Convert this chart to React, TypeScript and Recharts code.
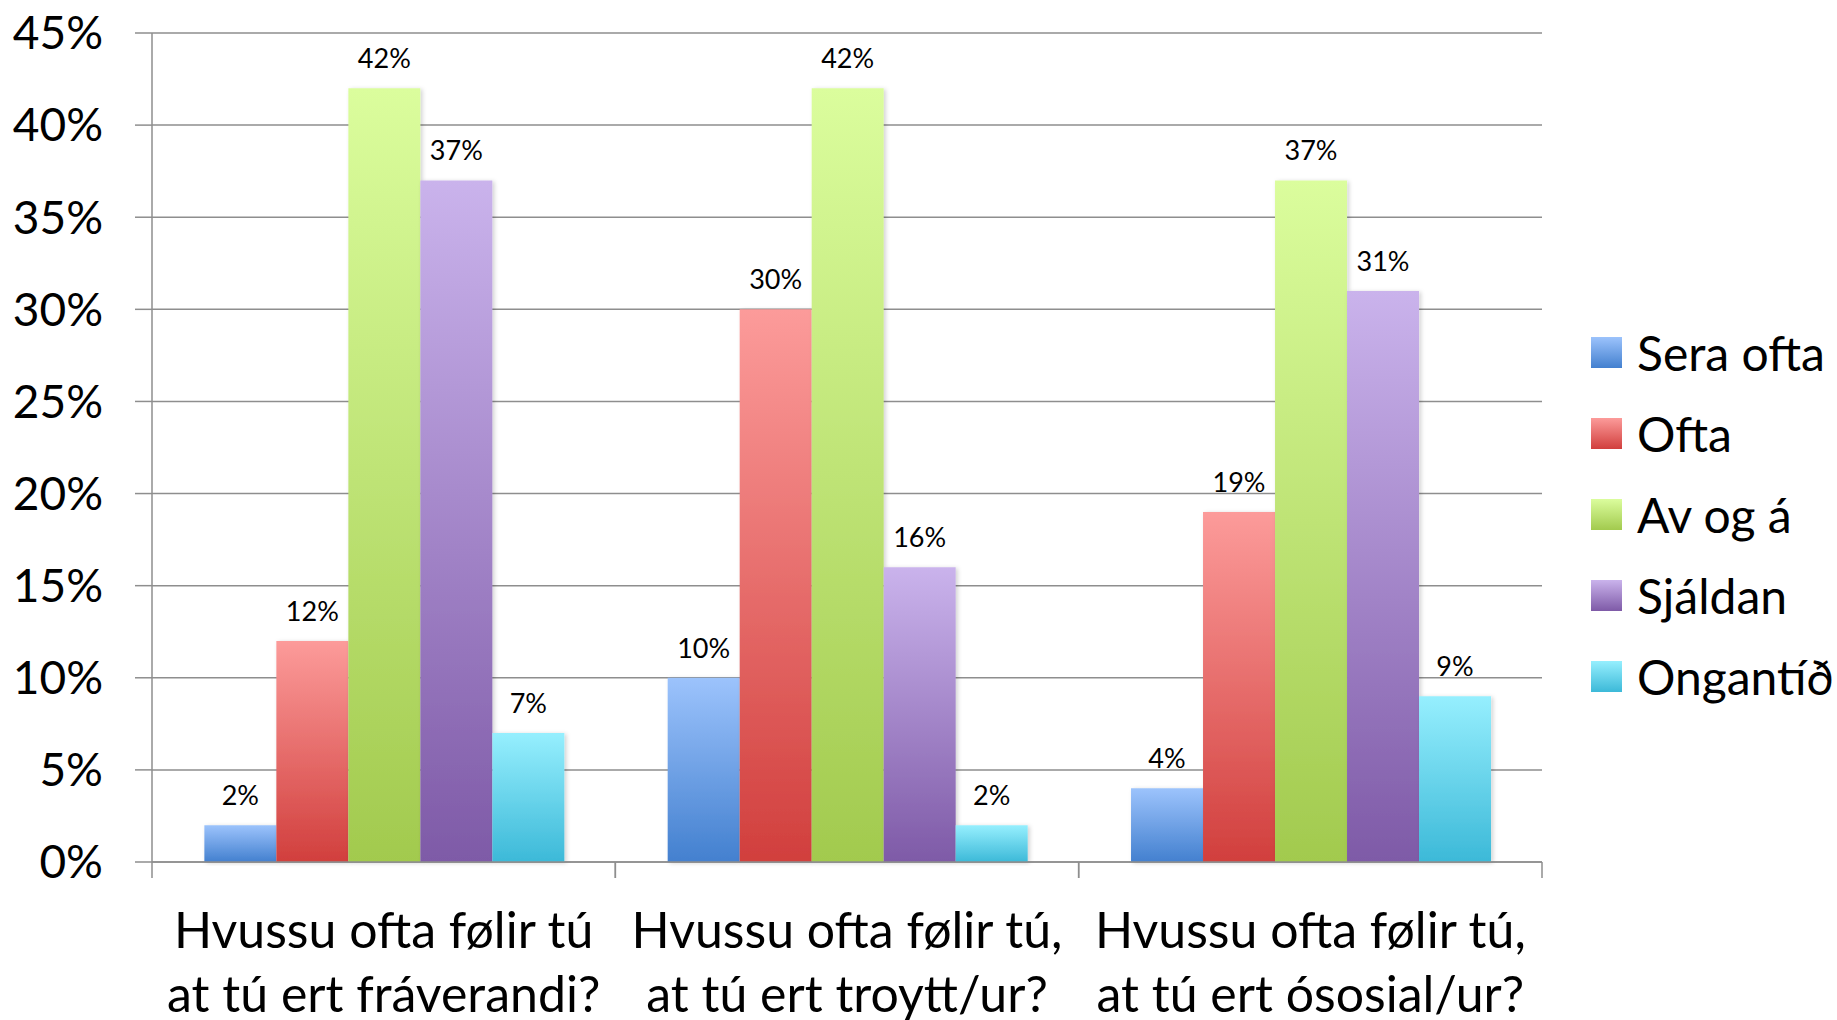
import { BarChart, Bar, XAxis, YAxis, CartesianGrid, LabelList } from 'recharts';

const categories = [
  'Hvussu ofta følir tú\nat tú ert fráverandi?',
  'Hvussu ofta følir tú,\nat tú ert troytt/ur?',
  'Hvussu ofta følir tú,\nat tú ert ósosial/ur?',
];
const seraOfta = [2, 10, 4];
const ofta = [12, 30, 19];
const avOgA = [42, 42, 37];
const sjaldan = [37, 16, 31];
const ongantid = [7, 2, 9];
const yTicks = [0, 5, 10, 15, 20, 25, 30, 35, 40, 45];

const series = [
  { key: 'seraOfta', name: 'Sera ofta', top: '#9cc3fc', bottom: '#4380cf' },
  { key: 'ofta', name: 'Ofta', top: '#fc9b9a', bottom: '#d13f3d' },
  { key: 'avOgA', name: 'Av og á', top: '#dbfd9d', bottom: '#a2ca4e' },
  { key: 'sjaldan', name: 'Sjáldan', top: '#cab3ec', bottom: '#7e5aa7' },
  { key: 'ongantid', name: 'Ongantíð', top: '#96effe', bottom: '#3cb9d8' },
];

const data = categories.map((c, i) => ({
  category: c,
  seraOfta: seraOfta[i],
  ofta: ofta[i],
  avOgA: avOgA[i],
  sjaldan: sjaldan[i],
  ongantid: ongantid[i],
}));

const FONT = 'Lato, "Open Sans", sans-serif';
const GRID = '#8e8e8e';

function CategoryTick(props: any) {
  const { x, y, payload, width } = props;
  const half = payload.offset ?? width / categories.length / 2;
  const lines = String(payload.value).split('\n');
  return (
    <g>
      <line x1={x - half} x2={x - half} y1={y} y2={y + 16} stroke={GRID} strokeWidth={1.5} />
      <line x1={x + half} x2={x + half} y1={y} y2={y + 16} stroke={GRID} strokeWidth={1.5} />
      {lines.map((l, i) => (
        <text key={i} x={x} y={y + 86 + i * 64} textAnchor="middle" fontSize={50} fontFamily={FONT} fill="#000">
          {l}
        </text>
      ))}
    </g>
  );
}

// plain legend, placed beside the plot so it doesn't steal plot space
function LegendBox() {
  return (
    <div style={{ position: 'absolute', left: 1591, top: 312, fontFamily: FONT, fontSize: 48, color: '#000' }}>
      {series.map((s) => (
        <div key={s.key} style={{ height: 81, display: 'flex', alignItems: 'center', whiteSpace: 'nowrap' }}>
          <span
            style={{
              width: 31,
              height: 31,
              display: 'inline-block',
              background: `linear-gradient(${s.top}, ${s.bottom})`,
              marginRight: 15,
              flex: 'none',
            }}
          />
          <span>{s.name}</span>
        </div>
      ))}
    </div>
  );
}

export default function App() {
  return (
    <div style={{ position: 'absolute', left: 0, top: 0, width: 1837, height: 1020, overflow: 'hidden', background: '#fff' }}>
      <BarChart
        width={1837}
        height={1020}
        data={data}
        margin={{ top: 33, right: 295, bottom: 0, left: 12 }}
        barCategoryGap="11.3%"
        barGap={0}
      >
        <defs>
          {series.map((s) => (
            <linearGradient key={s.key} id={`grad-${s.key}`} x1="0" y1="0" x2="0" y2="1">
              <stop offset="0%" stopColor={s.top} />
              <stop offset="100%" stopColor={s.bottom} />
            </linearGradient>
          ))}
          <filter id="shadow" x="-10%" y="-10%" width="130%" height="120%">
            <feDropShadow dx="2" dy="1" stdDeviation="2" floodColor="#000" floodOpacity="0.18" />
          </filter>
        </defs>
        <CartesianGrid vertical={false} stroke={GRID} strokeWidth={1.5} />
        <XAxis
          dataKey="category"
          interval={0}
          height={158}
          tickSize={0}
          tickMargin={0}
          axisLine={{ stroke: GRID, strokeWidth: 1.5 }}
          tick={<CategoryTick />}
        />
        <YAxis
          domain={[0, 45]}
          ticks={yTicks}
          width={140}
          tickSize={17}
          tickMargin={32}
          interval={0}
          tickFormatter={(v) => `${v}%`}
          tick={{ fontSize: 46, fill: '#000', fontFamily: FONT }}
          tickLine={{ stroke: GRID, strokeWidth: 1.5 }}
          axisLine={{ stroke: GRID, strokeWidth: 1.5 }}
        />
        {series.map((s) => (
          <Bar
            key={s.key}
            dataKey={s.key}
            name={s.name}
            fill={`url(#grad-${s.key})`}
            isAnimationActive={false}
            style={{ filter: 'url(#shadow)' }}
          >
            <LabelList
              dataKey={s.key}
              position="top"
              offset={20}
              formatter={(v: any) => `${v}%`}
              style={{ fontSize: 27, fontFamily: FONT, fill: '#000' }}
            />
          </Bar>
        ))}
      </BarChart>
      <LegendBox />
    </div>
  );
}
